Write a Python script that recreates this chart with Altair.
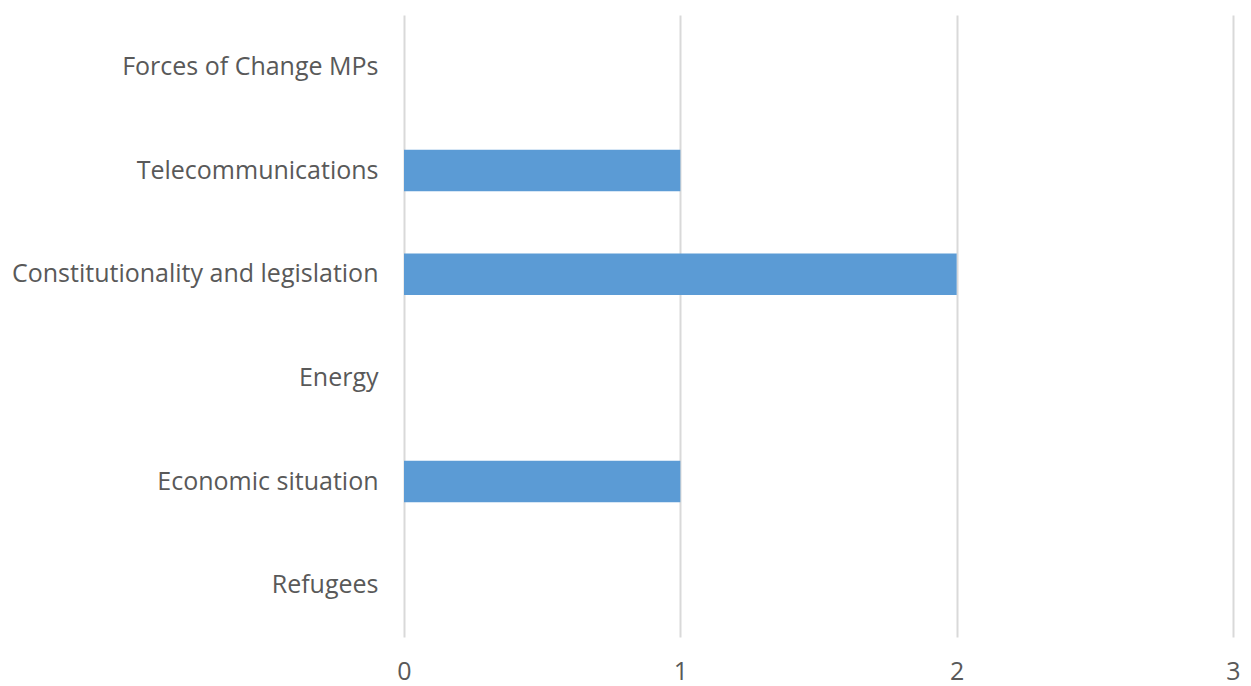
import altair as alt
import pandas as pd

categories = ["Forces of Change MPs", "Telecommunications", "Constitutionality and legislation",
              "Energy", "Economic situation", "Refugees"]
values = [0, 1, 2, 0, 1, 0]
x_ticks = [0, 1, 2, 3]

df = pd.DataFrame({"category": categories, "value": values})

chart = alt.Chart(df).mark_bar(color="#5b9bd5").encode(
    x=alt.X("value:Q", scale=alt.Scale(domain=[0, 3], nice=False),
            axis=alt.Axis(values=x_ticks, title=None, domain=False, ticks=False,
                          labelPadding=22, labelFlush=False, format="d")),
    y=alt.Y("category:N", sort=categories,
            scale=alt.Scale(paddingInner=0.6, paddingOuter=0.3),
            axis=alt.Axis(title=None, domain=False, ticks=False, grid=False,
                          labelPadding=26, labelLimit=500)),
).properties(
    width=829, height=622,
    autosize=alt.AutoSizeParams(type="none"),
    padding={"left": 404, "top": 15, "right": 18, "bottom": 49},
).configure_view(stroke=None).configure_axis(
    labelFont="Open Sans", labelFontSize=25, labelColor="#595959",
    gridColor="#d9d9d9", gridWidth=2,
)

chart.save("out.html", embed_options={"renderer": "svg", "actions": False})
